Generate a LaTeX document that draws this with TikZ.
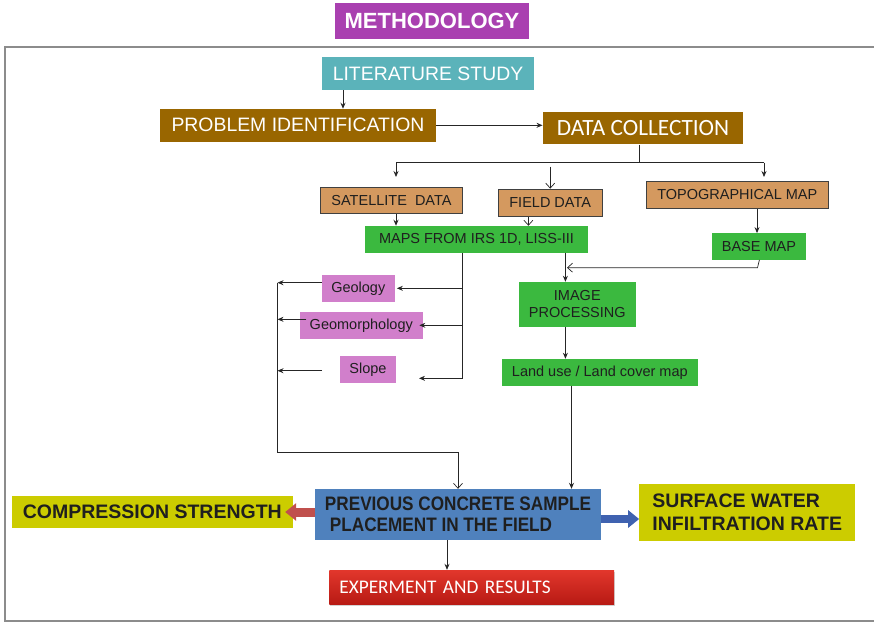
\documentclass[tikz,border=0pt]{standalone}
\usepackage{fontspec}
\setmainfont{Liberation Sans}
\newfontfamily\calibri{Carlito}
\newfontfamily\narrowsans[FakeStretch=0.88]{Liberation Sans}
\usetikzlibrary{arrows.meta, calc, shadows}

\definecolor{methpurple}{HTML}{A940B0}
\definecolor{litteal}{HTML}{5BB3BA}
\definecolor{probbrown}{HTML}{996600}
\definecolor{datatan}{HTML}{D4995F}
\definecolor{mapgreen}{HTML}{3BB93F}
\definecolor{layerpink}{HTML}{D17FCB}
\definecolor{sampleblue}{HTML}{4F81BD}
\definecolor{resultyellow}{HTML}{CCCC00}
\definecolor{exptop}{HTML}{E2372C}
\definecolor{expbottom}{HTML}{B81A14}
\definecolor{arrowred}{HTML}{C0504D}
\definecolor{arrowblue}{HTML}{3F62B0}

\begin{document}
\begin{tikzpicture}[x=1pt, y=-1pt,
    box/.style={rectangle, inner sep=0pt, text=black!88},
    smalltext/.style={font=\fontsize{14.5}{16.7}\selectfont},
    bigtext/.style={font=\fontsize{19.4}{22}\selectfont},
    heavy/.style={font=\fontsize{19.5}{22.3}\selectfont\bfseries},
    tanbox/.style={box, smalltext, fill=datatan, draw=black!75, line width=0.8pt},
    mapbox/.style={box, smalltext, fill=mapgreen},
    layerbox/.style={box, smalltext, fill=layerpink},
    link/.style={draw=black!85, line width=0.8pt},
    arr/.style={link, -{Stealth[length=6pt, width=5pt]}},
    openarr/.style={draw=black!85, line width=0.7pt, -{Straight Barb[length=5pt, width=9pt]}},
    fat/.style={line width=9pt, -{Triangle[length=11pt, width=17pt]}}]

    \useasboundingbox (0,0) rectangle (874,622);
    \draw[draw=black!45, line width=1.8pt] (876,46.7) -- (5,46.7) -- (5,621) -- (876,621);

    \node[box, fill=methpurple, text=white, minimum width=194pt, minimum height=36pt,
        font=\fontsize{22}{24}\selectfont\bfseries] (title) at (432,20.8) {METHODOLOGY};

    \node[box, bigtext, fill=litteal, text=white, minimum width=212pt, minimum height=32.7pt] (lit) at (428,73.7) {LITERATURE STUDY};
    \node[box, bigtext, fill=probbrown, text=white, minimum width=276pt, minimum height=32.7pt] (prob) at (298,125.3) {PROBLEM IDENTIFICATION};
    \node[box, fill=probbrown, text=white, minimum width=200.6pt, minimum height=32pt,
        font=\calibri\fontsize{23.3}{25}\selectfont] (data) at (643,128.3) {DATA COLLECTION};

    \node[tanbox, minimum width=141.3pt, minimum height=26.7pt] (sat) at (391.5,200.3) {SATELLITE\ \ DATA};
    \node[tanbox, minimum width=104.3pt, minimum height=27.3pt] (field) at (550.2,202.7) {FIELD DATA};
    \node[tanbox, minimum width=182pt, minimum height=27.4pt] (topo) at (737.3,195) {TOPOGRAPHICAL MAP};

    \node[mapbox, minimum width=222.5pt, minimum height=26.7pt] (maps) at (476.5,239.3) {MAPS FROM IRS 1D, LISS-III};
    \node[mapbox, minimum width=93.3pt, minimum height=26.4pt] (base) at (758.9,246.5) {BASE MAP};
    \node[mapbox, align=center, minimum width=116.7pt, minimum height=44.7pt] (imgp) at (577.3,304.3) {IMAGE\\PROCESSING};
    \node[mapbox, minimum width=195.7pt, minimum height=26.7pt] (land) at (599.8,372.3) {Land use / Land cover map};

    \node[layerbox, minimum width=72.7pt, minimum height=26.7pt] (geol) at (358.3,288.3) {Geology};
    \node[layerbox, minimum width=122.7pt, minimum height=26.7pt] (geom) at (361.3,325.3) {Geomorphology};
    \node[layerbox, minimum width=56pt, minimum height=26.7pt] (slope) at (368,369.3) {Slope};

    \node[box, fill=sampleblue, align=left, minimum width=286pt, minimum height=51pt,
        font=\narrowsans\bfseries\fontsize{19.5}{21}\selectfont] (prev) at (458,514.5)
        {PREVIOUS CONCRETE SAMPLE\\\hspace{5pt}PLACEMENT IN THE FIELD};
    \node[box, heavy, fill=resultyellow, minimum width=280.7pt, minimum height=32.6pt] (comp) at (152.3,512) {COMPRESSION STRENGTH};
    \node[box, heavy, fill=resultyellow, align=left, minimum width=215.7pt, minimum height=56.7pt] (sw) at (747.2,512.3)
        {SURFACE WATER\\INFILTRATION RATE};
    \node[box, text=white, top color=exptop, bottom color=expbottom, text width=264.7pt, align=left,
        minimum width=284.7pt, minimum height=34pt, drop shadow={opacity=0.35, shadow xshift=1pt, shadow yshift=-2pt},
        font=\calibri\fontsize{19.3}{21}\selectfont] (exp) at (471.7,587) {EXPERMENT AND RESULTS};

    \coordinate (fork) at (639,162.5);
    \coordinate (forkL) at (396,162.5);
    \coordinate (forkR) at (764,162.5);
    \coordinate (basein) at (567,267.7);
    \coordinate (rail) at (462,0);
    \coordinate (slopein) at (419,378.3);
    \coordinate (leftrail) at (277.5,0);
    \coordinate (slopeout) at (322,370.7);
    \coordinate (bend) at (277.5,452.3);

    \draw[arr] (lit.south -| 343,0) -- (prob.north -| 343,0);
    \draw[arr] (prob.east) -- (prob.east -| data.west);

    \draw[link] (data.south -| fork) -- (fork);
    \draw[link] (forkL) -- (forkR);
    \draw[arr] (forkL) -- ++(0,14.5);
    \draw[arr] (forkR) -- ++(0,14.5);
    \draw[openarr] ([yshift=22pt]field.north) -- (field.north);

    \draw[arr] (sat.south -| forkL) -- (maps.north -| forkL);
    \draw[openarr] (field.south -| 528.4,0) -- (maps.north -| 528.4,0);
    \draw[arr] (topo.south -| 757,0) -- (base.north -| 757,0);
    \draw[arr] (maps.south -| 565.4,0) -- (imgp.north -| 565.4,0);
    \draw[openarr] (base.south -| 759.4,0) -- (757.5,267.7) -- (basein);
    \draw[arr] (imgp.south -| 565.4,0) -- (land.north -| 565.4,0);

    \draw[arr] (maps.south -| rail) -- (slopein -| rail) -- (slopein);
    \draw[arr] (geol.east -| rail) -- ([xshift=2pt]geol.east);
    \draw[arr] (geom.east -| rail) -- ([xshift=-3.5pt]geom.east);

    \draw[arr] ([yshift=5.6pt]geol.west) -- ([yshift=5.6pt]geol.west -| leftrail);
    \draw[arr] ([xshift=6.7pt,yshift=6pt]geom.west) -- ([yshift=6pt]geom.west -| leftrail);
    \draw[arr] (slopeout) -- (slopeout -| leftrail);
    \draw[openarr] ([yshift=5.6pt]geol.west -| leftrail) -- (bend) -- (bend -| 458,0) -- (prev.north -| 458,0);

    \draw[arr] (land.south -| 571.5,0) -- (prev.north -| 571.5,0);
    \draw[arr] (prev.south -| 447,0) -- (exp.north -| 447,0);

    \draw[fat, arrowred] (prev.west |- comp.east) -- ([xshift=-7.7pt]comp.east);
    \draw[fat, arrowblue, line width=8pt] ([yshift=-4.5pt]prev.east) -- ([yshift=-4.5pt]prev.east -| sw.west);
\end{tikzpicture}
\end{document}
